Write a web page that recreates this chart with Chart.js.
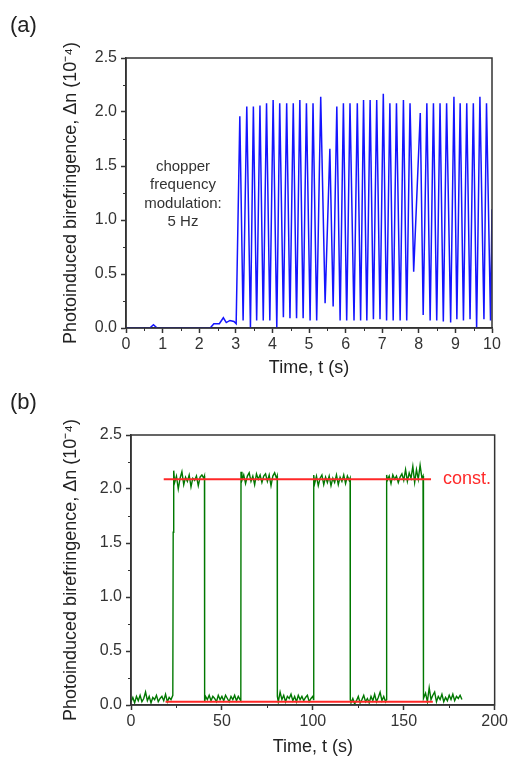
<!DOCTYPE html>
<html>
<head>
<meta charset="utf-8">
<script src="https://cdn.jsdelivr.net/npm/chart.js@4/dist/chart.umd.min.js"></script>
<style>
  html, body { margin:0; padding:0; background:#fff; }
  body { width:510px; height:758px; position:relative; overflow:hidden; font-family:"Liberation Sans", Arial, sans-serif; }
  .panel { position:absolute; left:0; width:510px; height:379px; }
  .lbl { position:absolute; color:#222; white-space:nowrap; }
</style>
</head>
<body>
<div class="panel" style="top:0"><canvas id="ca" width="510" height="379"></canvas></div>
<div class="panel" style="top:379px"><canvas id="cb" width="510" height="379"></canvas></div>
<div class="lbl" style="left:10px;top:11px;font-size:22px;line-height:28px;">(a)</div>
<div class="lbl" style="left:10px;top:388px;font-size:22px;line-height:28px;">(b)</div>
<div class="lbl" style="left:133px;top:157px;width:100px;text-align:center;font-size:15px;line-height:18.3px;color:#333;">chopper<br>frequency<br>modulation:<br>5 Hz</div>
<div class="lbl" style="left:443px;top:467px;font-size:18px;line-height:22px;color:#ff2a2a;">const.</div>
<script>
// ---------- Panel (a): chopper-modulated signal ----------
const aTime = [0,0.65,0.75,0.85,2.3,2.4,2.55,2.66,2.74,2.84,2.95,3.01,
  3.11,3.20,3.30,3.40,3.48,3.57,3.66,3.75,3.84,3.93,
  4.02,4.12,4.20,4.30,4.39,4.48,4.57,4.66,4.75,4.84,
  4.93,5.03,5.11,5.21,5.32,5.44,5.57,5.66,5.76,5.85,
  5.94,6.03,6.12,6.23,6.32,6.41,6.49,6.58,6.67,6.76,
  6.85,6.94,7.03,7.12,7.21,7.30,7.39,7.49,7.58,7.67,
  7.76,7.86,8.04,8.12,8.22,8.31,8.40,8.49,8.58,8.67,
  8.76,8.87,8.96,9.04,9.13,9.22,9.31,9.40,9.49,9.58,
  9.67,9.78,9.85,9.96,10.0];
const aValue = [0,0,0.03,0,0,0.04,0.04,0.095,0.05,0.07,0.06,0.04,
  1.96,0.07,2.05,0.0,2.05,0.07,2.06,0.07,2.08,0.07,
  2.11,0.0,2.08,0.10,2.08,0.09,2.08,0.09,2.11,0.09,
  2.08,0.07,2.08,0.07,2.14,0.23,1.66,0.20,2.05,0.07,
  2.08,0.07,2.08,0.07,2.08,0.07,2.11,0.07,2.11,0.08,
  2.11,0.08,2.17,0.07,2.08,0.07,2.08,0.07,2.11,0.07,
  2.08,0.52,1.99,0.12,2.08,0.07,2.08,0.07,2.08,0.06,
  2.08,0.05,2.14,0.08,2.08,0.07,2.08,0.08,2.08,0.0,
  2.14,0.08,2.08,0.07,1.1];

// ---------- Panel (b): on/off switching ----------
const bTime = [
  0,1,2,3,4,5,6,7,8,9,10,11,12,13,14,15,16,17,18,19,20,21,22,23,
  23.2,23.5,
  24,25,26,27,28,29,30,31,32,33,34,35,36,37,38,39,40,40.4,
  40.5,41,42,43,44,45,46,47,48,49,50,51,52,53,54,55,56,57,58,59,60,60.4,
  60.5,61,62,63,64,65,66,67,68,69,70,71,72,73,74,75,76,77,78,79,80,80.4,
  80.5,81,82,83,84,85,86,87,88,89,90,91,92,93,94,95,96,97,98,99,100,100.4,
  100.5,101,102,103,104,105,106,107,108,109,110,111,112,113,114,115,116,117,118,119,120,120.5,
  120.6,121,122,123,124,125,126,127,128,129,130,131,132,133,134,135,136,137,138,139,140,140.5,
  140.6,141,142,143,144,145,146,147,148,149,150,151,152,153,154,155,156,157,158,159,160,160.6,
  160.7,161,162,163,164,165,166,167,168,169,170,171,172,173,174,175,176,177,178,179,180,181,182
];
const bValue = [
  0.03,0.07,0.02,0.08,0.04,0.09,0.03,0.06,0.12,0.04,0.08,0.02,0.07,0.05,0.09,0.03,0.06,0.08,0.04,0.10,0.03,0.07,0.05,0.09,
  1.6,2.17,
  2.06,2.12,2.0,2.10,2.16,2.04,2.11,2.07,2.13,2.02,2.10,2.08,2.12,2.03,2.11,2.13,2.10,2.12,
  0.03,0.08,0.05,0.09,0.04,0.08,0.06,0.03,0.09,0.05,0.08,0.04,0.09,0.06,0.03,0.08,0.05,0.09,0.04,0.08,0.05,0.04,
  2.16,2.08,2.13,2.05,2.12,2.15,2.07,2.12,2.04,2.14,2.09,2.13,2.06,2.12,2.14,2.07,2.13,2.03,2.12,2.15,2.10,2.12,
  0.08,0.03,0.12,0.05,0.09,0.03,0.08,0.06,0.10,0.04,0.08,0.03,0.09,0.05,0.08,0.04,0.07,0.09,0.03,0.06,0.08,0.05,
  2.13,2.05,2.12,2.03,2.10,2.13,2.04,2.11,2.06,2.12,2.03,2.10,2.06,2.13,2.04,2.11,2.07,2.13,2.05,2.12,2.08,2.10,
  0.05,0.02,0.06,0.01,0.04,0.08,0.02,0.05,0.09,0.03,0.06,0.02,0.08,0.04,0.10,0.03,0.07,0.12,0.04,0.08,0.03,0.05,
  2.13,2.08,2.12,2.05,2.13,2.09,2.12,2.06,2.11,2.14,2.08,2.18,2.07,2.15,2.10,2.21,2.06,2.18,2.09,2.22,2.10,2.12,
  0.15,0.06,0.11,0.03,0.16,0.05,0.09,0.12,0.03,0.08,0.05,0.10,0.03,0.07,0.04,0.09,0.05,0.10,0.04,0.08,0.06,0.09,0.05
];
const constTime = [18, 165];
const constValue = [2.09, 2.09];
const baseTime = [19, 166];
const baseValue = [0.03, 0.03];

const yTicksLabel = 'Photoinduced birefringence, \u0394n (10\u207B\u2074)';
const xTitleLabel = 'Time, t (s)';

const AXIS = '#333333';
const FONT = '"Liberation Sans", Arial, sans-serif';

function pts(xs, ys) { return xs.map((x, i) => ({x: x, y: ys[i]})); }

const framePlugin = {
  id: 'frame',
  afterDraw(chart) {
    const {ctx, chartArea: ca, scales: {x, y}} = chart;
    const o = chart.options.plugins.frame;
    ctx.save();
    ctx.strokeStyle = AXIS;
    ctx.lineWidth = 1.5;
    ctx.strokeRect(ca.left, ca.top, ca.right - ca.left, ca.bottom - ca.top);
    ctx.lineWidth = 1;
    ctx.beginPath();
    for (let v = x.min + o.minorX; v < x.max; v += 2 * o.minorX) {
      const px = Math.round(x.getPixelForValue(v)) + 0.5;
      ctx.moveTo(px, ca.bottom); ctx.lineTo(px, ca.bottom + 3);
    }
    for (let v = y.min + o.minorY; v < y.max; v += 2 * o.minorY) {
      const py = Math.round(y.getPixelForValue(v)) + 0.5;
      ctx.moveTo(ca.left, py); ctx.lineTo(ca.left - 3, py);
    }
    ctx.stroke();
    ctx.restore();
  }
};

function makeOptions(cfg) {
  return {
    responsive: false,
    animation: false,
    devicePixelRatio: 1,
    layout: { padding: { left: 0, top: cfg.top, right: cfg.right, bottom: 0 } },
    elements: { point: { radius: 0 }, line: { tension: 0 } },
    plugins: { legend: { display: false }, tooltip: { enabled: false },
      frame: { minorX: cfg.minorX, minorY: cfg.minorY } },
    scales: {
      x: {
        type: 'linear', min: cfg.xmin, max: cfg.xmax,
        ticks: { stepSize: cfg.xstep, color: AXIS, font: { family: FONT, size: 16 }, padding: 2, maxRotation: 0,
                 callback: v => String(v) },
        grid: { display: true, drawOnChartArea: false, drawTicks: true, tickLength: 5, tickColor: AXIS, tickWidth: 1.5 },
        border: { display: true, color: AXIS, width: 1.5 },
        title: { display: true, text: xTitleLabel, color: '#222', font: { family: FONT, size: 18 }, padding: { top: 0, bottom: 0 } },
        afterFit: s => { s.height = cfg.xh; }
      },
      y: {
        type: 'linear', min: 0, max: 2.5,
        ticks: { stepSize: 0.5, color: AXIS, font: { family: FONT, size: 16 }, padding: 4,
                 callback: v => Number(v).toFixed(1) },
        grid: { display: true, drawOnChartArea: false, drawTicks: true, tickLength: 5, tickColor: AXIS, tickWidth: 1.5 },
        border: { display: true, color: AXIS, width: 1.5 },
        title: { display: true, text: yTicksLabel, color: '#222', font: { family: FONT, size: 18 }, padding: { top: 60, bottom: 0 } },
        afterFit: s => { s.width = cfg.left; }
      }
    }
  };
}

new Chart(document.getElementById('ca'), {
  type: 'line',
  data: { datasets: [{
    data: pts(aTime, aValue), borderColor: 'rgb(20,20,255)', borderWidth: 1.5, fill: false
  }]},
  options: makeOptions({ top: 58, right: 18, left: 126, xh: 51, xmin: 0, xmax: 10, xstep: 1, minorX: 0.5, minorY: 0.25 }),
  plugins: [framePlugin]
});

new Chart(document.getElementById('cb'), {
  type: 'line',
  data: { datasets: [
    { data: pts(constTime, constValue), borderColor: 'rgb(255,40,40)', borderWidth: 2, order: 0 },
    { data: pts(baseTime, baseValue), borderColor: 'rgb(255,40,40)', borderWidth: 2, order: 0 },
    { data: pts(bTime, bValue), borderColor: 'rgb(0,120,0)', borderWidth: 1.4, order: 1 }
  ]},
  options: makeOptions({ top: 56, right: 13, left: 131, xh: 53, xmin: 0, xmax: 200, xstep: 50, minorX: 25, minorY: 0.25 }),
  plugins: [framePlugin]
});
</script>
</body>
</html>
